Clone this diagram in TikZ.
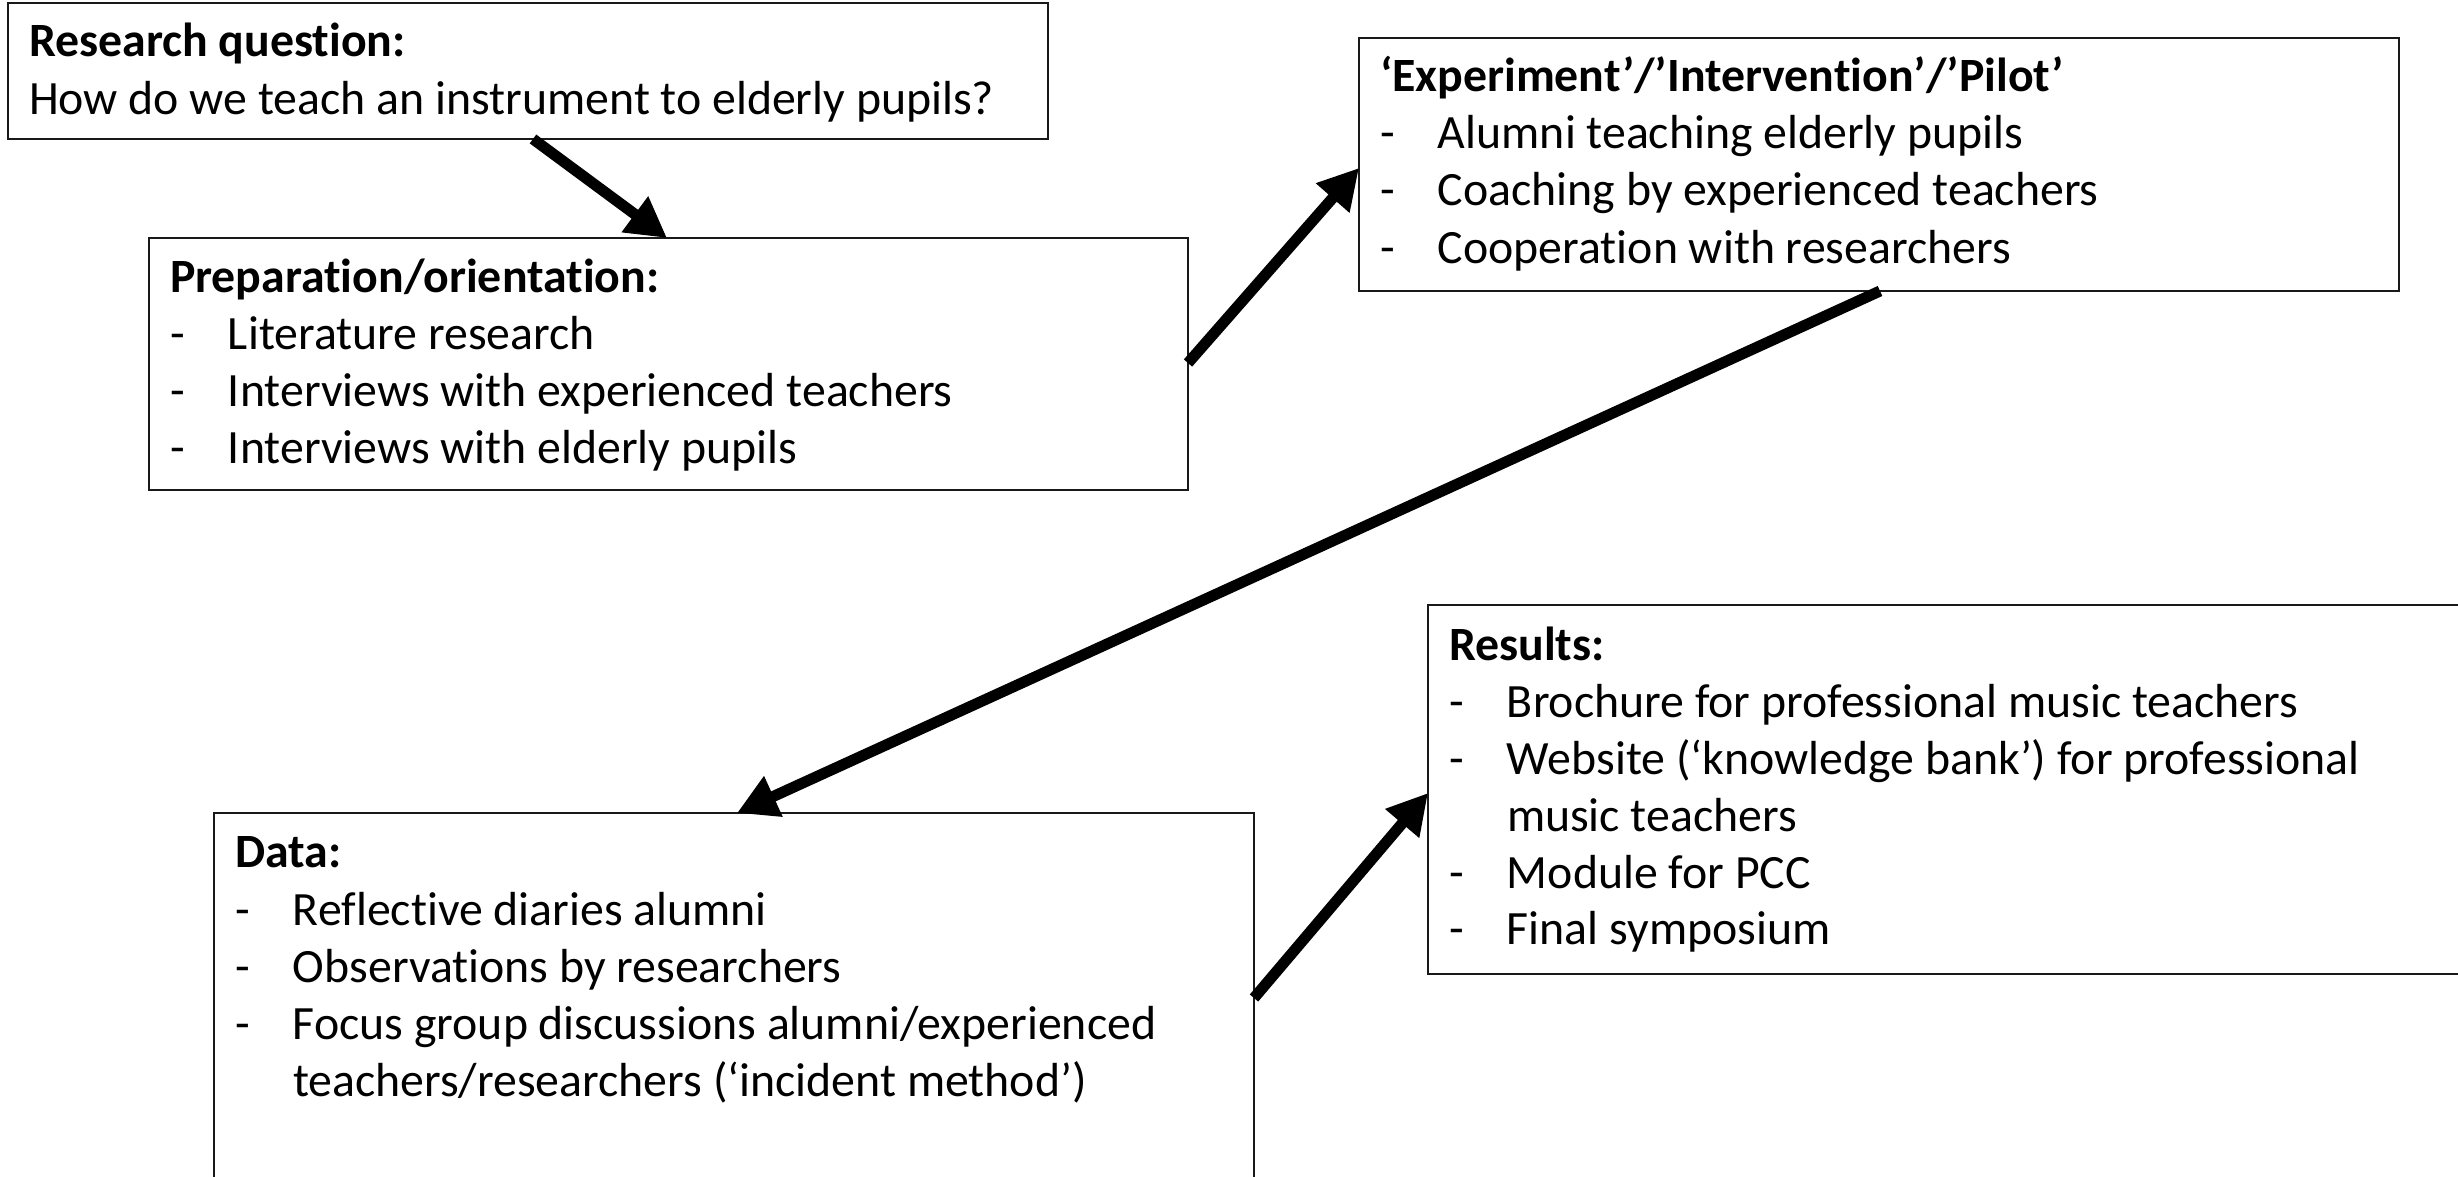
\documentclass[tikz,border=0pt]{standalone}
\usepackage{fontspec}
\setmainfont{Carlito}[Ligatures={TeX,NoCommon}]
\usetikzlibrary{arrows.meta,calc}
\begin{document}
\begin{tikzpicture}[x=1pt,y=-1pt,
  box/.style={draw=black!90, line width=2.5pt, anchor=north west, inner sep=0pt, outer sep=0pt},
  txt/.style={anchor=base west, inner sep=0pt, outer sep=0pt, font=\fontsize{47.8}{57}\selectfont},
  ttl/.style={anchor=base west, inner sep=0pt, outer sep=0pt, font=\fontsize{47.8}{57}\selectfont\bfseries},
  flow/.style={line width=11pt, -{Triangle[length=40pt,width=42pt]}}]
\newcommand{\itm}[1]{\makebox[58pt][l]{-}#1}
\newcommand{\cnt}[1]{\hspace*{58pt}#1}
\useasboundingbox (0,0) rectangle (2458,1177);
\clip (0,0) rectangle (2458,1177);

% Research question
\node[box, minimum width=1040pt, minimum height=136pt] (rq) at (8,3) {};
\node[ttl] (rqt) at (29,57) {Research question:};
\node[txt] (rq1) at (29,115) {How do we teach an instrument to elderly pupils?};

% Preparation
\node[box, minimum width=1039pt, minimum height=252pt] (prep) at (149,238) {};
\node[ttl] (prept) at (170,292) {Preparation/orientation:};
\node[txt] (prep1) at (170,349) {\itm{Literature research}};
\node[txt] (prep2) at (170,406) {\itm{Interviews with experienced teachers}};
\node[txt] (prep3) at (170,463) {\itm{Interviews with elderly pupils}};

% Experiment
\node[box, minimum width=1040pt, minimum height=253pt] (exp) at (1359,38) {};
\node[ttl] (expt) at (1380,92) {‘Experiment’/’Intervention’/’Pilot’};
\node[txt] (exp1) at (1380,149) {\itm{Alumni teaching elderly pupils}};
\node[txt] (exp2) at (1380,206) {\itm{Coaching by experienced teachers}};
\node[txt] (exp3) at (1380,263) {\itm{Cooperation with researchers}};

% Results
\node[box, minimum width=1100pt, minimum height=369pt] (res) at (1428,605) {};
\node[ttl] (rest) at (1449,660) {Results:};
\node[txt] (res1) at (1449,717) {\itm{Brochure for professional music teachers}};
\node[txt] (res2) at (1449,774) {\itm{Website (‘knowledge bank’) for professional}};
\node[txt] (res3) at (1449,831) {\cnt{music teachers}};
\node[txt] (res4) at (1449,888) {\itm{Module for PCC}};
\node[txt] (res5) at (1449,944) {\itm{Final symposium}};

% Data
\node[box, minimum width=1040pt, minimum height=420pt] (data) at (214,813) {};
\node[ttl] (datat) at (235,867) {Data:};
\node[txt] (data1) at (235,925) {\itm{Reflective diaries alumni}};
\node[txt] (data2) at (235,982) {\itm{Observations by researchers}};
\node[txt] (data3) at (235,1039) {\itm{Focus group discussions alumni/experienced}};
\node[txt] (data4) at (235,1096) {\cnt{teachers/researchers (‘incident method’)}};

% Arrows
\draw[flow] ([xshift=525pt]rq.south west) -- ([xshift=518pt]prep.north west);
\draw[flow] ([yshift=-125pt]prep.north east) -- ([yshift=-130pt]exp.north west);
\draw[flow] ([xshift=521pt]exp.south west) -- ([xshift=523pt]data.north west);
\draw[flow] ([yshift=-185pt]data.north east) -- ([yshift=-188pt]res.north west);
\end{tikzpicture}
\end{document}
